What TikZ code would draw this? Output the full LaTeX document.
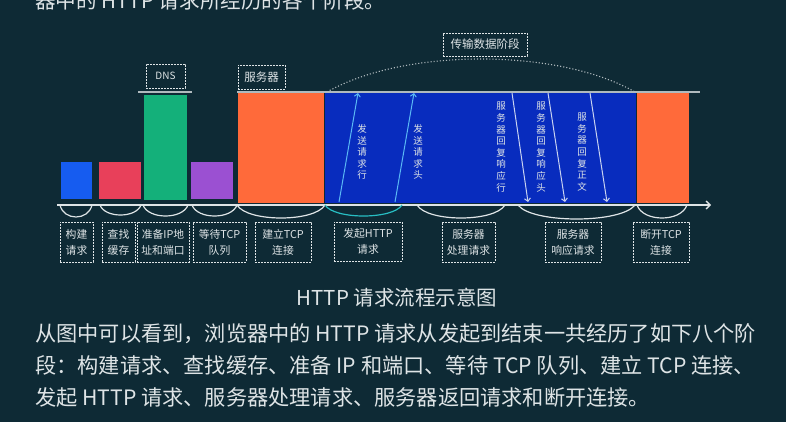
\documentclass[tikz,border=0pt]{standalone}
\usepackage{fontspec}
\setmainfont{Noto Sans CJK SC}
\usetikzlibrary{arrows.meta}
\definecolor{bg}{RGB}{14,42,53}
\definecolor{fg}{RGB}{222,228,230}
\definecolor{barblue}{RGB}{22,92,240}
\definecolor{barred}{RGB}{232,64,90}
\definecolor{bargreen}{RGB}{20,176,122}
\definecolor{barpurple}{RGB}{155,80,210}
\definecolor{barorange}{RGB}{255,106,58}
\definecolor{bigblue}{RGB}{8,44,190}
\definecolor{topgray}{RGB}{176,186,190}
\definecolor{arccyan}{RGB}{40,190,195}
\definecolor{upblue}{RGB}{90,185,245}
\definecolor{downwhite}{RGB}{200,210,240}
\newcommand\hangarc[4]{%
  \pgfmathsetmacro\arcA{#2+0.12*(#3-#2)}%
  \pgfmathsetmacro\arcB{#3-0.12*(#3-#2)}%
  \pgfmathsetmacro\arcD{205+#4*4/3}%
  \draw[arcline,#1] (#2,205) .. controls (\arcA,\arcD) and (\arcB,\arcD) .. (#3,205);}
\begin{document}
\begin{tikzpicture}[x=1pt,y=-1pt,
  arcline/.style={line width=1.2pt},
  dbox/.style={draw=fg,line width=0.9pt,dash pattern=on 2pt off 1pt,text=fg,inner sep=0pt,align=center,font=\fontsize{10.8}{16}\selectfont},
  vtext/.style={text=fg,align=center,inner sep=0pt,font=\fontsize{9.5}{11.6}\selectfont},
  para/.style={text=fg,anchor=base west,inner sep=0pt,font=\fontsize{21.2}{24}\selectfont},
  toplinestyle/.style={draw=topgray,line width=2pt},
  uparrow/.style={draw=upblue,line width=1pt,-{Straight Barb[length=3pt,width=6pt]}},
  downarrow/.style={draw=downwhite,line width=1pt,-{Straight Barb[length=3pt,width=6pt]}}]
\useasboundingbox (0,0) rectangle (786,422);
\fill[bg] (0,0) rectangle (786,422);

% top text (cut off at the top edge, as in the reference)
\node[para,font=\fontsize{20.6}{24}\selectfont] (toptext) at (35,9) {器中的 HTTP 请求所经历的各个阶段。};

% bars
\fill[barblue] (61,162) rectangle (92,199);
\fill[barred] (99,162) rectangle (141,199);
\fill[bargreen] (144,95) rectangle (187,200);
\fill[barpurple] (191,162) rectangle (233,199);
\fill[barorange] (238,93) rectangle (324,203);
\fill[bigblue] (325,93) rectangle (636,203);
\fill[barorange] (637,93) rectangle (689,203);

% top gray lines
\draw[toplinestyle] (138,92) -- (192,92);
\draw[toplinestyle] (237,92) -- (700,92);

% dotted arc
\draw[topgray,line width=1.1pt,dotted] (327,92) .. controls (404,48) and (558,48) .. (635,92);

% header boxes
\node[dbox,minimum width=39pt,minimum height=24pt,font=\fontsize{10}{12}\selectfont] (dns) at (165.5,76) {DNS};
\node[dbox,minimum width=47pt,minimum height=24pt,font=\fontsize{11.5}{13}\selectfont] (server) at (261.5,77) {服务器};
\node[dbox,minimum width=84pt,minimum height=23pt,font=\fontsize{11.5}{13}\selectfont] (transfer) at (485,44.5) {传输数据阶段};

% arrows inside blue
\coordinate (u1s) at (339,202); \coordinate (u1e) at (358,93);
\coordinate (u2s) at (395,202); \coordinate (u2e) at (414,93);
\coordinate (d1s) at (512,93); \coordinate (d1e) at (528,202);
\coordinate (d2s) at (548,93); \coordinate (d2e) at (565,202);
\coordinate (d3s) at (590,93); \coordinate (d3e) at (607,202);
\draw[uparrow] (u1s) -- (u1e);
\draw[uparrow] (u2s) -- (u2e);
\draw[downarrow] (d1s) -- (d1e);
\draw[downarrow] (d2s) -- (d2e);
\draw[downarrow] (d3s) -- (d3e);

\node[vtext] (v1) at (362,152) {发\\送\\请\\求\\行};
\node[vtext] (v2) at (418,152) {发\\送\\请\\求\\头};
\node[vtext] (v3) at (501,147) {服\\务\\器\\回\\复\\响\\应\\行};
\node[vtext] (v4) at (541,147) {服\\务\\器\\回\\复\\响\\应\\头};
\node[vtext] (v5) at (582,152) {服\\务\\器\\回\\复\\正\\文};

% axis
\draw[fg,line width=1.3pt,-{Straight Barb[length=4pt,width=8pt]}] (57,205) -- (711,205);

% hanging arcs
\hangarc{fg}{60}{92}{12}
\hangarc{fg}{100}{141}{10}
\hangarc{fg}{143}{188}{11}
\hangarc{fg}{192}{237}{11}
\hangarc{fg}{237}{325}{13}
\hangarc{arccyan}{325}{402}{11}
\hangarc{fg}{417}{505}{13}
\hangarc{fg}{518}{635}{14}
\hangarc{fg}{637}{687}{13}

% label boxes
\node[dbox,minimum width=33pt,minimum height=40pt] (l1) at (76.5,242) {构建\\请求};
\node[dbox,minimum width=33pt,minimum height=40pt] (l2) at (118.5,242) {查找\\缓存};
\node[dbox,minimum width=52pt,minimum height=40pt] (l3) at (163,242) {准备IP地\\址和端口};
\node[dbox,minimum width=53pt,minimum height=40pt] (l4) at (219.5,242) {等待TCP\\队列};
\node[dbox,minimum width=56pt,minimum height=40pt] (l5) at (283,242) {建立TCP\\连接};
\node[dbox,minimum width=68pt,minimum height=39pt] (l6) at (368,241.5) {发起HTTP\\请求};
\node[dbox,minimum width=53pt,minimum height=40pt] (l7) at (468.5,242) {服务器\\处理请求};
\node[dbox,minimum width=56pt,minimum height=40pt] (l8) at (573,242) {服务器\\响应请求};
\node[dbox,minimum width=56pt,minimum height=40pt] (l9) at (661,242) {断开TCP\\连接};

% caption and paragraph
\node[text=fg,inner sep=0pt,anchor=base,font=\fontsize{20.5}{22}\selectfont] (caption) at (397,305) {HTTP 请求流程示意图};
\node[para] (p1) at (35,341) {从图中可以看到，浏览器中的 HTTP 请求从发起到结束一共经历了如下八个阶};
\node[para] (p2) at (35,373) {段：构建请求、查找缓存、准备 IP 和端口、等待 TCP 队列、建立 TCP 连接、};
\node[para] (p3) at (35,405) {发起 HTTP 请求、服务器处理请求、服务器返回请求和断开连接。};
\end{tikzpicture}
\end{document}
